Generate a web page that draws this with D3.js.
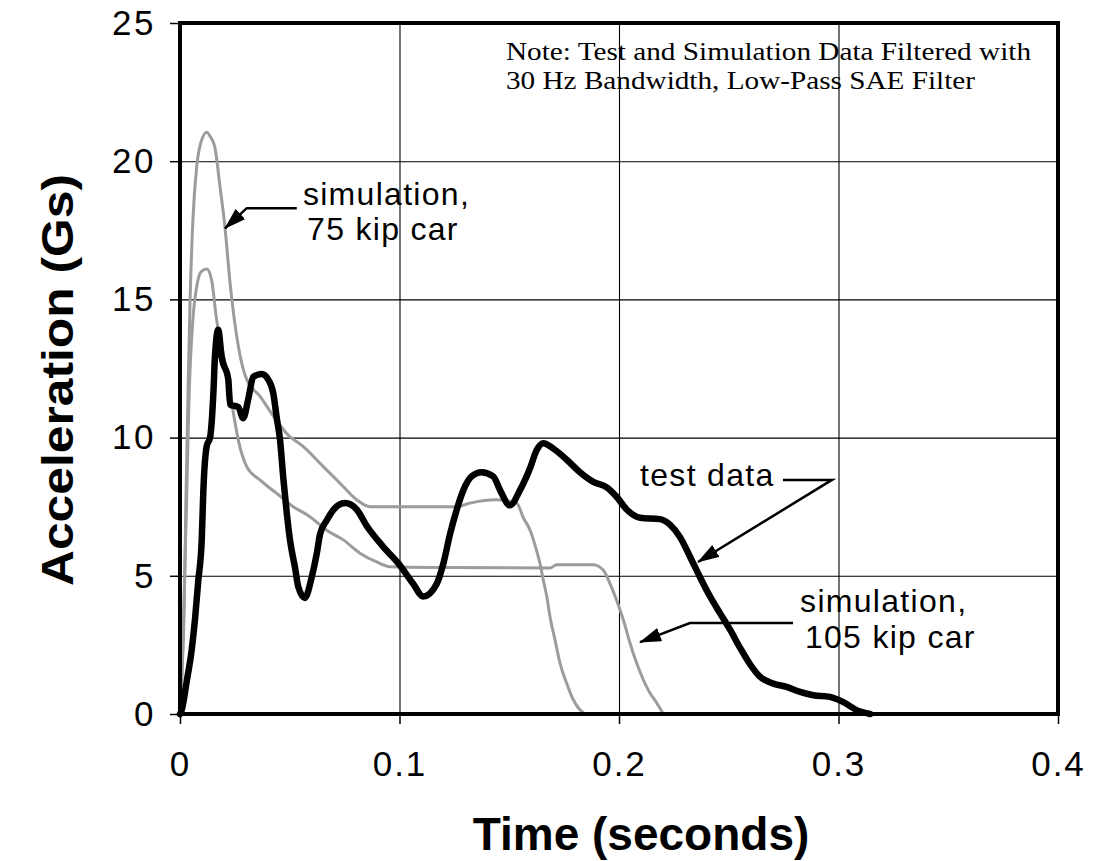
<!DOCTYPE html>
<html><head><meta charset="utf-8">
<script src="https://cdn.jsdelivr.net/npm/d3@7"></script>
<style>body{margin:0;background:#fff}</style>
</head><body><svg id="c" width="1094" height="861"></svg>
<script>
// ---- data ----
const xTicks = [0, 0.1, 0.2, 0.3, 0.4];
const xTickLabels = ["0", "0.1", "0.2", "0.3", "0.4"];
const yTicks = [0, 5, 10, 15, 20, 25];
const yTickLabels = ["0", "5", "10", "15", "20", "25"];

const testTime = [0,0.0008,0.0031,0.0053,0.0068,0.0083,0.0099,0.0106,0.0122,0.0137,0.0152,0.0159,0.0174,0.0190,0.0220,0.0228,0.0266,0.0288,0.0311,0.0334,0.0372,0.0402,0.0425,0.0441,0.0456,0.0471,0.0486,0.0501,0.0524,0.0539,0.0569,0.0600,0.0623,0.0638,0.0668,0.0706,0.0752,0.0805,0.0851,0.0926,0.0995,0.1063,0.1108,0.1169,0.1200,0.1230,0.1261,0.1291,0.1329,0.1374,0.1427,0.1458,0.1503,0.1549,0.1595,0.1625,0.1655,0.1701,0.1762,0.1822,0.1883,0.1944,0.1990,0.2035,0.2096,0.2187,0.2232,0.2278,0.2323,0.2369,0.2415,0.2460,0.2506,0.2551,0.2597,0.2642,0.2703,0.2764,0.2825,0.2885,0.2961,0.3022,0.3083,0.3144];
const testAccel = [0,0.15,1.2,2.3,3.4,4.8,6.3,8.0,9.7,10.0,11.6,12.9,13.9,12.9,12.1,11.2,11.1,10.7,11.4,12.2,12.3,12.1,11.6,10.7,9.9,8.5,7.3,6.3,5.3,4.6,4.2,4.95,5.8,6.5,7.0,7.45,7.63,7.4,6.8,6.05,5.45,4.7,4.25,4.7,5.45,6.5,7.4,8.1,8.6,8.75,8.6,8.1,7.55,8.1,8.9,9.55,9.8,9.6,9.2,8.75,8.4,8.2,7.85,7.4,7.1,7.05,6.85,6.4,5.7,4.95,4.25,3.65,3.05,2.4,1.8,1.35,1.1,0.98,0.8,0.68,0.62,0.43,0.14,0];

const sim75Time = [0,0.0009,0.0018,0.0027,0.0036,0.0046,0.0059,0.0076,0.0096,0.0122,0.0137,0.0159,0.0182,0.0205,0.0228,0.0266,0.0304,0.0364,0.0441,0.0486,0.0562,0.0653,0.0729,0.0805,0.0866,0.1261,0.1321,0.1443,0.1534,0.1564,0.1595,0.1625,0.1640,0.1655,0.1671,0.1686,0.1708,0.1731,0.1762,0.1785,0.1822,0.1845];
const sim75Accel = [0,1.5,3.4,7.7,11.4,15.0,17.9,19.8,20.7,21.05,20.9,20.5,19.1,17.6,15.6,13.3,12.1,11.5,10.6,10.15,9.67,8.95,8.35,7.75,7.5,7.5,7.63,7.75,7.63,7.1,6.65,5.9,5.45,4.85,4.25,3.5,2.7,1.85,1.1,0.63,0.15,0];

const sim105Time = [0,0.0009,0.0018,0.0030,0.0041,0.0059,0.0077,0.0096,0.0122,0.0144,0.0167,0.0190,0.0220,0.0243,0.0266,0.0304,0.0364,0.0441,0.0516,0.0592,0.0668,0.0744,0.0820,0.0896,0.0957,0.1200,0.1686,0.1716,0.1883,0.1929,0.1959,0.1990,0.2020,0.2050,0.2080,0.2111,0.2141,0.2172,0.2202];
const sim105Accel = [0,1.5,4.0,7.7,11.4,14.3,15.5,16.0,16.1,15.7,14.25,13.3,12.1,10.9,9.9,8.95,8.47,7.98,7.5,7.14,6.65,6.3,5.82,5.5,5.33,5.3,5.28,5.4,5.4,5.2,4.72,4.1,3.4,2.57,1.85,1.23,0.76,0.4,0];

const xTitle = "Time (seconds)";
const yTitle = "Acceleration (Gs)";
const noteLines = ["Note: Test and Simulation Data Filtered with", "30 Hz Bandwidth, Low-Pass SAE Filter"];

// ---- drawing ----
const svg = d3.select("#c");
svg.append("rect").attr("width",1094).attr("height",861).attr("fill","#fff");
const L=180, R=1058, T=23, B=714;
const x = d3.scaleLinear().domain([0,0.4]).range([L,R]);
const y = d3.scaleLinear().domain([0,25]).range([B,T]);
const sans = "'Liberation Sans', Arial, Helvetica, sans-serif";
const serif = "'Liberation Serif', 'Times New Roman', serif";

// grid
const grid = svg.append("g");
grid.append("g").attr("transform",`translate(0,${B})`)
  .call(d3.axisBottom(x).tickValues(xTicks).tickSize(-(B-T)).tickFormat(""))
  .call(g=>g.select(".domain").remove())
  .selectAll("line").attr("stroke","#000").attr("stroke-width",1.1);
grid.append("g").attr("transform",`translate(${L},0)`)
  .call(d3.axisLeft(y).tickValues(yTicks).tickSize(-(R-L)).tickFormat(""))
  .call(g=>g.select(".domain").remove())
  .selectAll("line").attr("stroke","#000").attr("stroke-width",1.1);

// axes with outward ticks and labels
const xa = svg.append("g").attr("transform",`translate(0,${B})`)
  .call(d3.axisBottom(x).tickValues(xTicks).tickSize(10).tickPadding(27).tickFormat((d,i)=>xTickLabels[i]));
xa.select(".domain").remove();
xa.selectAll("line").attr("stroke","#000").attr("stroke-width",1.5);
xa.selectAll("text").attr("font-family",sans).attr("font-size",35).attr("fill","#000").style("letter-spacing","2px");

const ya = svg.append("g").attr("transform",`translate(${L},0)`)
  .call(d3.axisLeft(y).tickValues(yTicks).tickSize(10).tickPadding(14).tickFormat((d,i)=>yTickLabels[i]));
ya.select(".domain").remove();
ya.selectAll("line").attr("stroke","#000").attr("stroke-width",1.5);
ya.selectAll("text").attr("font-family",sans).attr("font-size",35).attr("fill","#000").style("letter-spacing","2.5px");

// series
const line = d3.line().x(d=>x(d[0])).y(d=>y(d[1])).curve(d3.curveMonotoneX);
const plot = svg.append("g");
plot.append("path").datum(d3.zip(sim75Time, sim75Accel)).attr("d",line)
  .attr("fill","none").attr("stroke","#9c9c9c").attr("stroke-width",3).attr("stroke-linejoin","round");
plot.append("path").datum(d3.zip(sim105Time, sim105Accel)).attr("d",line)
  .attr("fill","none").attr("stroke","#9c9c9c").attr("stroke-width",3).attr("stroke-linejoin","round");
plot.append("path").datum(d3.zip(testTime, testAccel)).attr("d",line)
  .attr("fill","none").attr("stroke","#000").attr("stroke-width",6.5).attr("stroke-linejoin","round").attr("stroke-linecap","round");

// frame
svg.append("rect").attr("x",L).attr("y",T).attr("width",R-L).attr("height",B-T)
  .attr("fill","none").attr("stroke","#000").attr("stroke-width",4);

// arrow marker
const defs = svg.append("defs");
defs.append("marker").attr("id","ah").attr("markerUnits","userSpaceOnUse")
  .attr("viewBox","0 0 22 14").attr("refX",21).attr("refY",7)
  .attr("markerWidth",22).attr("markerHeight",14).attr("orient","auto")
  .append("path").attr("d","M0,0 L22,7 L0,14 Z").attr("fill","#000");

function pointer(pts){
  svg.append("path").attr("d", d3.line().x(d=>x(d[0])).y(d=>y(d[1]))(pts))
    .attr("fill","none").attr("stroke","#000").attr("stroke-width",2.5).attr("marker-end","url(#ah)");
}
function label(t, g, txt){
  svg.append("text").attr("x",x(t)).attr("y",y(g)).text(txt)
    .attr("font-family",sans).attr("font-size",32).attr("fill","#000").style("letter-spacing","1.3px");
}

// 75 kip annotation
label(0.0560, 18.42, "simulation,");
label(0.0579, 17.15, "75 kip car");
pointer([[0.0532,18.30],[0.0304,18.30],[0.0205,17.57]]);

// test data annotation
label(0.2096, 8.25, "test data");
pointer([[0.2747,8.47],[0.2970,8.47],[0.2360,5.50]]);

// 105 kip annotation
label(0.2825, 3.69, "simulation,");
label(0.2847, 2.39, "105 kip car");
pointer([[0.2793,3.29],[0.2323,3.29],[0.2096,2.60]]);

// note
svg.append("text").attr("x",506).attr("y",60).text(noteLines[0])
  .attr("font-family",serif).attr("font-size",25).attr("fill","#000")
  .attr("textLength",525).attr("lengthAdjust","spacingAndGlyphs");
svg.append("text").attr("x",506).attr("y",89).text(noteLines[1])
  .attr("font-family",serif).attr("font-size",25).attr("fill","#000")
  .attr("textLength",469).attr("lengthAdjust","spacingAndGlyphs");

// titles
svg.append("text").attr("x",641).attr("y",850).attr("text-anchor","middle").text(xTitle)
  .attr("font-family",sans).attr("font-weight","bold").attr("font-size",46).attr("fill","#000");
svg.append("text").attr("transform","translate(73,380) rotate(-90)").attr("text-anchor","middle").text(yTitle)
  .attr("font-family",sans).attr("font-weight","bold").attr("font-size",44).attr("fill","#000")
  .attr("textLength",412).attr("lengthAdjust","spacingAndGlyphs");
</script></body></html>
